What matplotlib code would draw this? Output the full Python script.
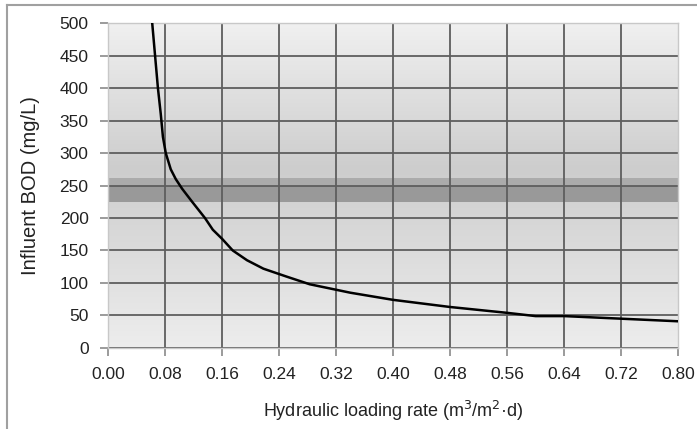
import numpy as np
import matplotlib
matplotlib.use("Agg")
import matplotlib.pyplot as plt
from matplotlib.colors import LinearSegmentedColormap

plt.rcParams['font.family'] = ['Liberation Sans', 'DejaVu Sans']

# data
loading_rate = [0.062, 0.066, 0.070, 0.074, 0.077, 0.081, 0.088, 0.095, 0.104, 0.118, 0.136,
                0.147, 0.160, 0.175, 0.195, 0.218, 0.250, 0.283, 0.340, 0.400, 0.480,
                0.560, 0.600, 0.640, 0.720, 0.800]
bod = [500, 450, 400, 360, 325, 300, 275, 260, 245, 225, 200,
       182, 168, 150, 135, 122, 110, 98, 85, 74, 63,
       54, 49, 49, 45, 41]
x_ticks = [0.00, 0.08, 0.16, 0.24, 0.32, 0.40, 0.48, 0.56, 0.64, 0.72, 0.80]
y_ticks = [0, 50, 100, 150, 200, 250, 300, 350, 400, 450, 500]
band_low, band_mid, band_high = 225, 250, 262

fig = plt.figure(figsize=(6.97, 4.29), dpi=100)
ax = fig.add_axes([0.155, 0.189, 0.818, 0.757])
ax.set_xlim(0, 0.80)
ax.set_ylim(0, 500)

# vertical gradient background
cmap = LinearSegmentedColormap.from_list('bg', [(0, '#ededed'), (0.55, '#cdcdcd'), (1, '#f0f0f0')])
grad = np.linspace(0, 1, 256).reshape(-1, 1)
ax.imshow(grad, aspect='auto', cmap=cmap, extent=[0, 0.80, 0, 500], origin='lower', zorder=0)

ax.axhspan(band_mid, band_high, color='#ababab', zorder=1, lw=0)
ax.axhspan(band_low, band_mid, color='#999999', zorder=1, lw=0)

for yv in y_ticks:
    ax.axhline(yv, color='#5e5e5e', lw=1.3, zorder=2)
for xv in x_ticks[1:-1]:
    ax.axvline(xv, color='#5e5e5e', lw=1.3, zorder=2)

ax.plot(loading_rate, bod, color='black', lw=1.8, zorder=3, clip_on=True)

ax.set_xticks(x_ticks)
ax.set_xticklabels([f"{v:.2f}" for v in x_ticks])
ax.set_yticks(y_ticks)
for s in ax.spines.values():
    s.set_color('#c8c8c8')
    s.set_linewidth(1.0)
ax.tick_params(axis='both', length=6, width=1.2, color='#8a8a8a', labelsize=12.5, labelcolor='#222222')
ax.tick_params(axis='x', pad=8)
ax.tick_params(axis='y', pad=8)

ax.set_xlabel('Hydraulic loading rate (m$^3$/m$^2$·d)', fontsize=13, color='#222222', labelpad=12)
ax.set_ylabel('Influent BOD (mg/L)', fontsize=14.5, color='#222222', labelpad=14)

# outer frame lines (top and left)
fig.add_artist(plt.Line2D([7/697, 1], [1-5/429, 1-5/429], transform=fig.transFigure, color='#a0a0a0', lw=1.5))
fig.add_artist(plt.Line2D([7/697, 7/697], [0, 1-5/429], transform=fig.transFigure, color='#a0a0a0', lw=1.5))

fig.savefig('out.png', dpi=100, facecolor='white')
